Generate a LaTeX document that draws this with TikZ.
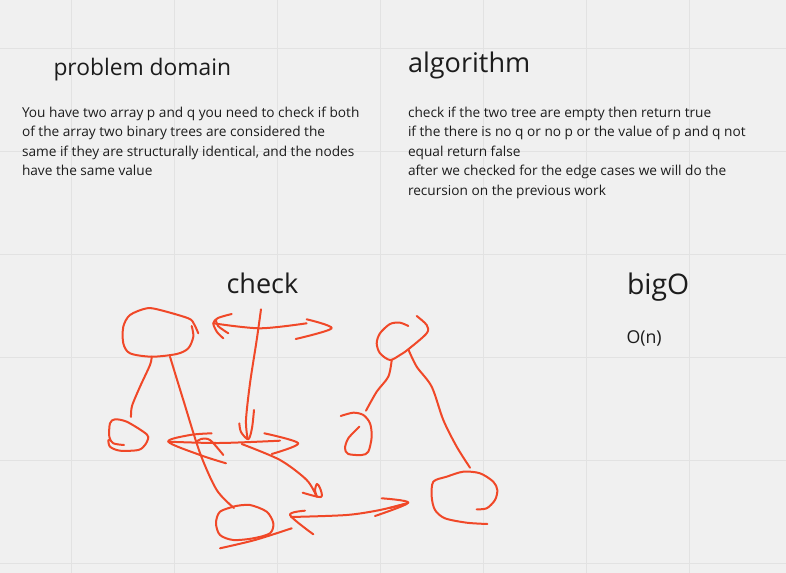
\documentclass[tikz,border=0pt]{standalone}
\usepackage{fontspec}
\setmainfont{Open Sans}
\definecolor{sketchred}{RGB}{240,72,40}
\definecolor{boardbg}{RGB}{240,240,240}
\definecolor{boardgrid}{RGB}{226,226,226}
\definecolor{inkgray}{RGB}{28,28,28}
\tikzset{every picture/.style={line width=0.75pt}}
\tikzset{
  pen/.style={color=sketchred, line width=1.5, line cap=round, line join=round},
  heading/.style={anchor=base west, inner sep=0pt, color=inkgray, font=\fontsize{20.3}{24}\selectfont},
  bodytext/.style={anchor=north west, inner sep=0pt, color=inkgray, align=left, font=\fontsize{10.25}{14.6}\selectfont}
}
\begin{document}
\begin{tikzpicture}[x=0.75pt,y=0.75pt,yscale=-1,xscale=1]
\useasboundingbox (0,0) rectangle (786,573);
%Board background
\fill [boardbg] (0,0) rectangle (786,573);
%Grid
\foreach \gx in {71,174,277,380,483,586,689} {\draw [boardgrid] (\gx,0) -- (\gx,573);}
\foreach \gy in {49,152,255,358,461,564} {\draw [boardgrid] (0,\gy) -- (786,\gy);}

% Text Node
\node [heading, font=\fontsize{17.1}{20}\selectfont] (domainTitle) at (53,76) {problem domain};
% Text Node
\node [bodytext] (domainText) at (21.5,106.5) {You have two array p and q you need to check if both\\of the array two binary trees are considered the\\same if they are structurally identical, and the nodes\\have the same value};
% Text Node
\node [heading] (algoTitle) at (407.5,72.3) {algorithm};
% Text Node
\node [bodytext] (algoText) at (407.5,106.5) {check if the two tree are empty then return true\\if the there is no q or no p or the value of p and q not\\equal return false\\after we checked for the edge cases we will do the\\recursion on the previous work};
% Text Node
\node [heading] (checkTitle) at (226,293.3) {check};
% Text Node
\node [heading, font=\fontsize{21.3}{25}\selectfont] (bigTitle) at (626.5,295) {bigO};
% Text Node
\node [heading, font=\fontsize{13.3}{16}\selectfont] (bigText) at (626,343.3) {O(n)};

%Curve Lines: first tree root
\draw [pen] plot [smooth] coordinates {(191.7,326) (193.3,336.7) (188.3,348.3) (176.7,354) (151.7,356.7) (130,353.3) (123.3,343.3) (123.3,326.7) (130,315) (146.7,308.3) (160,310) (188.3,318.3) (194,324) (198.3,333.3)};
%Curve Lines: root to left child
\draw [pen] plot [smooth] coordinates {(151.7,356.7) (150,365) (140,386.7) (132,406) (131,417)};
%Curve Lines: root to right child
\draw [pen] plot [smooth] coordinates {(170,356.7) (183.3,400) (200,453) (216.7,490) (234,508)};
%Curve Lines: left child
\draw [pen] plot [smooth] coordinates {(124,445) (113.3,443.3) (109.3,436.7) (110,423.3) (115,419.3) (126.7,421.7) (143.3,431.7) (148.3,437) (145,445) (138.3,450) (120,450.7) (110,446.7) (108.3,440)};
%Curve Lines: right child
\draw [pen] plot [smooth] coordinates {(236,506) (220,511.7) (216,523.3) (220,535) (233.3,540) (253.3,538.3) (270,533.3) (273.3,523.3) (266.7,511.7) (250,505) (236,506)};
\draw [pen] plot [smooth] coordinates {(220,548.3) (255,540) (291.7,528.3)};

%Curve Lines: second tree root
\draw [pen] plot [smooth] coordinates {(408.3,326) (400,322.7) (390,324) (380,333.3) (376.7,343.3) (380,353.3) (390,360) (400,355) (408.3,349.3) (426.7,333.3) (426.7,325) (416.7,316)};
%Curve Lines: root to left child
\draw [pen] plot [smooth] coordinates {(391.7,360) (388.3,376.7) (376.7,391.7) (366,410.7)};
%Curve Lines: root to right child
\draw [pen] plot [smooth] coordinates {(408.3,349.3) (416.7,366.7) (431.7,386.7) (443.3,420) (456.7,446.7) (470,467.7)};
%Curve Lines: left child
\draw [pen] plot [smooth] coordinates {(340.7,416) (353.3,412.7) (363.3,415) (370,423.3) (371.7,436.7) (368.3,451.7) (361.7,455) (348.3,454) (345,448.3) (348.3,438.3) (359.3,426.7)};
%Curve Lines: right child
\draw [pen] plot [smooth] coordinates {(476.7,509.3) (486.7,508.3) (495,500) (497.3,490) (493.3,481.7) (480,473.3) (463.3,471.7) (446.7,476.7) (433.3,481.7) (431.7,496.7) (435,510) (445,518.3) (466.7,522.7) (487.3,524)};

%Curve Lines: arrow down from check
\draw [pen] plot [smooth] coordinates {(261,309.3) (256.7,340) (250,383.3) (246,420) (247.5,438)};
\draw [pen] plot [smooth] coordinates {(239.3,423.3) (241,432) (248.3,439.3) (252,428) (254,410)};
%Curve Lines: top double arrow
\draw [pen] plot [smooth] coordinates {(213.3,323.3) (260,328.3) (306.7,323.3)};
\draw [pen] plot [smooth] coordinates {(231.7,314) (218,318) (213.3,323.3) (217,332) (223.3,338.3)};
\draw [pen] plot [smooth] coordinates {(228.3,333.3) (218,326) (216,320)};
\draw [pen] plot [smooth] coordinates {(306.7,319.3) (331.7,328.3) (295.7,339)};
%Curve Lines: middle double arrow
\draw [pen] plot [smooth] coordinates {(168.3,441.7) (220,443) (280,440.7)};
\draw [pen] plot [smooth] coordinates {(211.7,433.3) (190,435) (168.3,441.7) (200,455) (226,463.3)};
\draw [pen] plot [smooth] coordinates {(196.7,441.7) (201,439) (210,440) (223.3,455)};
\draw [pen] plot [smooth] coordinates {(264.3,433.3) (298.3,443.3) (271.7,454)};
%Curve Lines: diagonal arrow
\draw [pen] plot [smooth] coordinates {(241.7,444) (280,460) (306.7,480) (316.7,496.7)};
\draw [pen] plot [smooth] coordinates {(302.7,492.7) (321,497) (320,488) (317,484) (315,490) (317,497)};
%Curve Lines: bottom double arrow
\draw [pen] plot [smooth] coordinates {(291,517) (346.7,515) (380,510) (406.7,503.3)};
\draw [pen] plot [smooth] coordinates {(305,510.7) (290,515) (313.3,534.3)};
\draw [pen] plot [smooth] coordinates {(381.7,498.3) (408.3,502.7) (375,516)};
\draw [pen] plot [smooth] coordinates {(390,508) (405,504)};

\end{tikzpicture}
\end{document}
